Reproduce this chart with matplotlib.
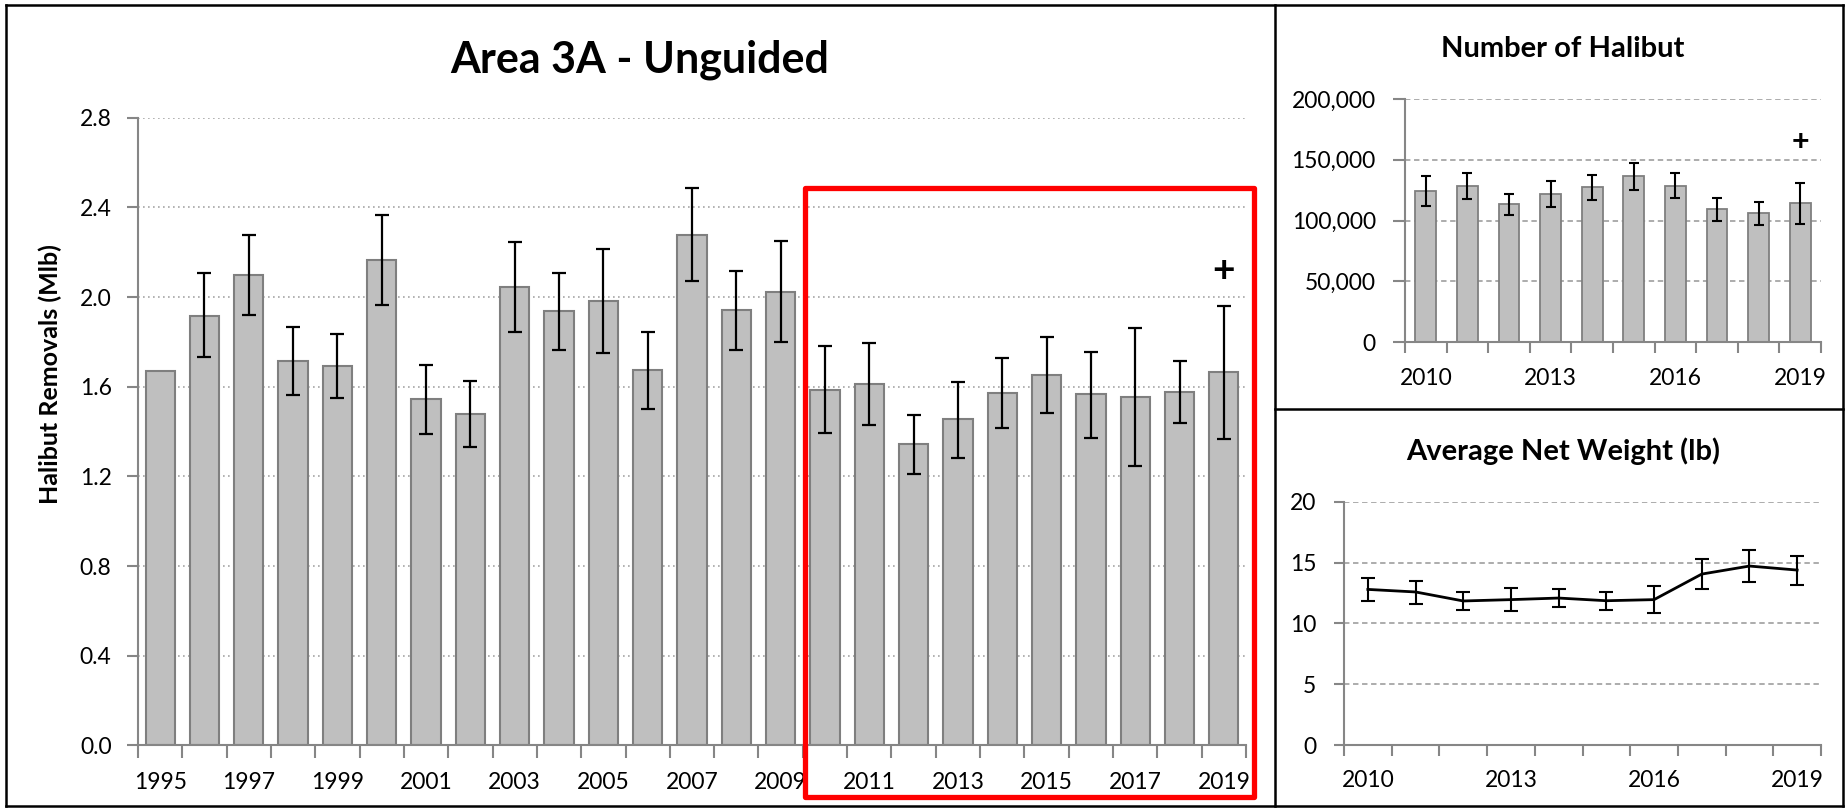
import matplotlib
matplotlib.use("Agg")
import matplotlib.pyplot as plt
import numpy as np
from matplotlib.patches import Rectangle
from matplotlib.lines import Line2D
from matplotlib.ticker import FuncFormatter

plt.rcParams['font.family'] = ['Lato', 'DejaVu Sans']

# ---------------- data ----------------
years = list(range(1995, 2020))
removals = [1.669, 1.917, 2.100, 1.715, 1.694, 2.164, 1.544, 1.480, 2.044, 1.936,
            1.982, 1.673, 2.279, 1.941, 2.023, 1.587, 1.613, 1.343, 1.454, 1.572,
            1.653, 1.566, 1.555, 1.576, 1.666]
removals_hi = [np.nan, 2.107, 2.277, 1.867, 1.837, 2.365, 1.696, 1.627, 2.245, 2.107,
               2.215, 1.844, 2.487, 2.118, 2.249, 1.782, 1.797, 1.476, 1.623, 1.728,
               1.820, 1.756, 1.863, 1.715, 1.962]
removals_lo = [np.nan, 1.731, 1.922, 1.565, 1.551, 1.966, 1.390, 1.330, 1.846, 1.765,
               1.752, 1.500, 2.070, 1.763, 1.798, 1.392, 1.431, 1.209, 1.283, 1.416,
               1.485, 1.373, 1.247, 1.437, 1.365]

recent_years = list(range(2010, 2020))
number = [124100, 128800, 113700, 121900, 127400, 136700, 128800, 109300, 106000, 114200]
number_hi = [136400, 139200, 122200, 132300, 137500, 147700, 139200, 118600, 115100, 131000]
number_lo = [112100, 118100, 104900, 111200, 117000, 124900, 118400, 99700, 96700, 97300]

weight = [12.79, 12.58, 11.84, 11.95, 12.08, 11.86, 11.95, 14.05, 14.71, 14.38]
weight_hi = [13.75, 13.48, 12.58, 12.88, 12.82, 12.60, 13.10, 15.29, 16.00, 15.56]
weight_lo = [11.81, 11.62, 11.07, 10.99, 11.32, 11.10, 10.82, 12.79, 13.40, 13.15]

main_yticks = [0.0, 0.4, 0.8, 1.2, 1.6, 2.0, 2.4, 2.8]
num_yticks = [0, 50000, 100000, 150000, 200000]
wt_yticks = [0, 5, 10, 15, 20]

main_title = "Area 3A - Unguided"
main_ylabel = "Halibut Removals (Mlb)"
num_title = "Number of Halibut"
wt_title = "Average Net Weight (lb)"

# ---------------- styles ----------------
BAR_FILL = "#BFBFBF"
BAR_EDGE = "#7F7F7F"
SPINE = "#868686"
GRID = "#A6A6A6"

W, H = 1847, 810
fig = plt.figure(figsize=(W / 100, H / 100), dpi=100)


def fx(px):
    return px / W


def fy(py):
    return 1 - py / H


def style_axes(ax):
    for s in ['top', 'right']:
        ax.spines[s].set_visible(False)
    for s in ['left', 'bottom']:
        ax.spines[s].set_color(SPINE)
        ax.spines[s].set_linewidth(1.5)
    ax.set_axisbelow(True)


def category_ticks(ax, n, labels_every, labels, first, tick_len, fs, pad):
    # boundary ticks (minor), labels at centers (major)
    ax.set_xticks(np.arange(-0.5, n, 1.0), minor=True)
    idx = list(range(first, n, labels_every))
    ax.set_xticks(idx)
    ax.set_xticklabels([labels[i] for i in idx], fontsize=fs)
    ax.tick_params(axis='x', which='major', length=0, pad=pad)
    ax.tick_params(axis='x', which='minor', length=tick_len, width=1.5, color=SPINE, direction='out')


# ---------------- main chart ----------------
ax = fig.add_axes([fx(138), fy(745.4), fx(1246 - 138), (745.4 - 117.8) / H])
style_axes(ax)
x = np.arange(len(years))
ax.bar(x, removals, width=0.66, color=BAR_FILL, edgecolor=BAR_EDGE, linewidth=1.5, zorder=2)
r = np.array(removals)
yerr = np.vstack([r - np.array(removals_lo), np.array(removals_hi) - r])
ax.errorbar(x, removals, yerr=yerr, fmt='none', ecolor='black', elinewidth=1.6,
            capsize=4.7, capthick=1.6, zorder=3)
ax.set_xlim(-0.5, len(years) - 0.5)
ax.set_ylim(0, 2.8)
ax.set_yticks(main_yticks)
ax.yaxis.set_major_formatter(FuncFormatter(lambda v, p: f"{v:.1f}"))
ax.tick_params(axis='y', length=8, width=1.5, color=SPINE, labelsize=16.5, pad=11)
ax.grid(axis='y', linestyle=(0, (1, 2)), color=GRID, linewidth=1.2, zorder=0)
category_ticks(ax, len(years), 2, [str(y) for y in years], 0, 9, 16.5, 19)
ax.set_ylabel(main_ylabel, fontsize=18, fontweight='bold')
ax.yaxis.set_label_coords(-0.0686, 0.592)
ax.text(len(years) - 1, 2.12, "+", ha='center', va='center', fontsize=28, fontweight='bold')
fig.text(fx(640), fy(72), main_title, ha='center', va='baseline', fontsize=31, fontweight='bold')

# red highlight box (anchored to data coords)
red = Rectangle((14.54, -0.23), 24.69 - 14.54, 2.487 + 0.23, fill=False, edgecolor='#FF0000',
                linewidth=3.8, clip_on=False, zorder=5, joinstyle='round')
ax.add_patch(red)

# ---------------- number of halibut ----------------
ax2 = fig.add_axes([fx(1405), fy(342.3), fx(1821 - 1405), (342.3 - 99) / H])
style_axes(ax2)
x2 = np.arange(len(recent_years))
ax2.bar(x2, number, width=0.5, color=BAR_FILL, edgecolor=BAR_EDGE, linewidth=1.3, zorder=2)
n = np.array(number)
yerr2 = np.vstack([n - np.array(number_lo), np.array(number_hi) - n])
ax2.errorbar(x2, number, yerr=yerr2, fmt='none', ecolor='black', elinewidth=1.5,
             capsize=3.3, capthick=1.5, zorder=3)
ax2.set_xlim(-0.5, len(recent_years) - 0.5)
ax2.set_ylim(0, 200000)
ax2.set_yticks(num_yticks)
ax2.yaxis.set_major_formatter(FuncFormatter(lambda v, p: f"{int(v):,}"))
ax2.tick_params(axis='y', length=9, width=1.5, color=SPINE, labelsize=16.5, pad=12)
ax2.grid(axis='y', linestyle=(0, (3, 2)), color=GRID, linewidth=1.3, zorder=0)
category_ticks(ax2, len(recent_years), 3, [str(y) for y in recent_years], 0, 8, 16.5, 18.5)
ax2.text(len(recent_years) - 1, 164900, "+", ha='center', va='center', fontsize=22, fontweight='bold')
fig.text(fx(1563), fy(56.7), num_title, ha='center', va='baseline', fontsize=21, fontweight='bold')

# ---------------- average net weight ----------------
ax3 = fig.add_axes([fx(1344), fy(745), fx(1821 - 1344), (745 - 501.7) / H])
style_axes(ax3)
x3 = np.arange(len(recent_years))
w = np.array(weight)
yerr3 = np.vstack([w - np.array(weight_lo), np.array(weight_hi) - w])
ax3.errorbar(x3, weight, yerr=yerr3, fmt='-', color='black', linewidth=2.0, ecolor='black',
             elinewidth=1.5, capsize=4.7, capthick=1.5, zorder=3)
ax3.set_xlim(-0.5, len(recent_years) - 0.5)
ax3.set_ylim(0, 20)
ax3.set_yticks(wt_yticks)
ax3.tick_params(axis='y', length=7, width=1.5, color=SPINE, labelsize=16.5, pad=13)
ax3.grid(axis='y', linestyle=(0, (3, 2)), color=GRID, linewidth=1.3, zorder=0)
category_ticks(ax3, len(recent_years), 3, [str(y) for y in recent_years], 0, 8, 16.5, 18)
fig.text(fx(1563), fy(460), wt_title, ha='center', va='baseline', fontsize=21, fontweight='bold')

# ---------------- panel frames ----------------
def fline(x0, y0, x1, y1):
    fig.add_artist(Line2D([fx(x0), fx(x1)], [fy(y0), fy(y1)], color='black', linewidth=1.8,
                          transform=fig.transFigure))

fline(6, 5, 1843, 5)
fline(6, 806, 1843, 806)
fline(6, 5, 6, 806)
fline(1843, 5, 1843, 806)
fline(1275, 5, 1275, 806)
fline(1275, 409, 1843, 409)

fig.savefig("out.png", dpi=100)
